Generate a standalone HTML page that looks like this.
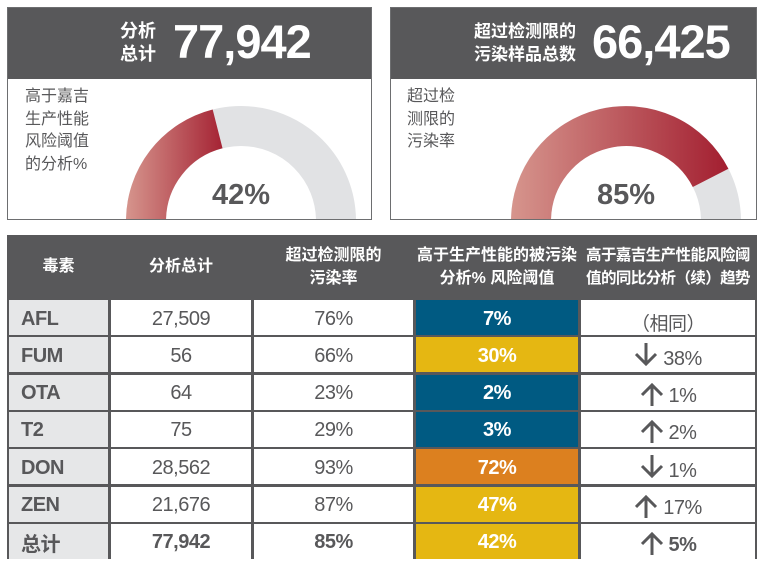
<!DOCTYPE html>
<html><head><meta charset="utf-8"><style>
body{margin:0;width:765px;height:565px;background:#fff;position:relative;overflow:hidden;font-family:"Liberation Sans","Noto Sans CJK SC",sans-serif;color:#58585a}
.a{position:absolute}
.card{position:absolute;border:1.5px solid #6d6e70;background:#fff;overflow:hidden;box-sizing:border-box}
.hd{position:absolute;left:0;top:0;right:0;height:71px;background:#58585a;color:#fff}
.c{position:absolute;background:#fff;display:flex;align-items:center;justify-content:center;font-size:20px;letter-spacing:-0.5px;padding-top:3px;box-sizing:border-box}
.h{position:absolute;color:#fff;display:flex;align-items:center;justify-content:center;text-align:center;font-size:16px;line-height:23px;font-weight:bold;white-space:nowrap}
.b{font-weight:bold}
.w{color:#fff;font-weight:bold}
</style></head><body>
<div class="card" style="left:7px;top:7px;width:365px;height:213px">
 <div class="hd">
  <div class="a" style="left:112px;top:12px;font-size:18px;line-height:23px;font-weight:bold">分析<br>总计</div>
  <div class="a" style="left:165px;top:6px;font-size:47px;font-weight:bold;letter-spacing:-1px">77,942</div>
 </div>
 <div class="a" style="left:17px;top:78px;font-size:16px;line-height:22.5px">高于嘉吉<br>生产性能<br>风险阈值<br>的分析%</div>
 <svg class="a" style="left:0;top:0" width="365" height="213">
  <defs><linearGradient id="g1" x1="118" x2="220" y1="0" y2="0" gradientUnits="userSpaceOnUse"><stop offset="0" stop-color="#d6958d"/><stop offset="1" stop-color="#a21d2f"/></linearGradient></defs>
  <circle cx="233" cy="213" r="95" fill="none" stroke="#e1e2e4" stroke-width="40"/>
  <path d="M138 213 A95 95 0 0 1 209.6 120.9" fill="none" stroke="url(#g1)" stroke-width="40"/>
  <text x="233" y="196" text-anchor="middle" font-size="29" font-weight="bold" fill="#58585a" font-family="Liberation Sans">42%</text>
 </svg>
</div>
<div class="card" style="left:390px;top:7px;width:367px;height:213px">
 <div class="hd">
  <div class="a" style="left:83px;top:12px;font-size:17px;line-height:23px;font-weight:bold">超过检测限的<br>污染样品总数</div>
  <div class="a" style="left:201px;top:6px;font-size:47px;font-weight:bold;letter-spacing:-1px">66,425</div>
 </div>
 <div class="a" style="left:16px;top:78px;font-size:16px;line-height:22.5px">超过检<br>测限的<br>污染率</div>
 <svg class="a" style="left:0;top:0" width="367" height="213">
  <defs><linearGradient id="g2" x1="120" x2="340" y1="0" y2="0" gradientUnits="userSpaceOnUse"><stop offset="0" stop-color="#d6958d"/><stop offset="1" stop-color="#a21d2f"/></linearGradient></defs>
  <circle cx="235" cy="213" r="95" fill="none" stroke="#e1e2e4" stroke-width="40"/>
  <path d="M140 213 A95 95 0 0 1 319.6 169.9" fill="none" stroke="url(#g2)" stroke-width="40"/>
  <text x="235" y="196" text-anchor="middle" font-size="29" font-weight="bold" fill="#58585a" font-family="Liberation Sans">85%</text>
 </svg>
</div>

<div class="a" style="left:7px;top:235px;width:750px;height:324px;background:#58585a"></div>
<div class="h" style="left:9px;top:235px;width:99px;height:63px">毒素</div>
<div class="h" style="left:111px;top:235px;width:140px;height:63px">分析总计</div>
<div class="h" style="left:254px;top:235px;width:159px;height:63px">超过检测限的<br>污染率</div>
<div class="h" style="left:416px;top:235px;width:162px;height:63px">高于生产性能的被污染<br>分析% 风险阈值</div>
<div class="h" style="left:581px;top:235px;width:174px;height:63px;font-size:15.5px;letter-spacing:-0.6px">高于嘉吉生产性能风险阈<br>值的同比分析（续）趋势</div>

<div id="rows"></div>
<script>
var d=[["AFL","27,509","76%","7%","#005a82","","（相同）"],
["FUM","56","66%","30%","#e5b712","d","38%"],
["OTA","64","23%","2%","#005a82","u","1%"],
["T2","75","29%","3%","#005a82","u","2%"],
["DON","28,562","93%","72%","#dc801f","d","1%"],
["ZEN","21,676","87%","47%","#e5b712","u","17%"],
["总计","77,942","85%","42%","#e5b712","u","5%"]];
var h="";
d.forEach(function(r,i){
 var t=300+i*37.3,H=35,bt=i==6?" b":"";
 h+='<div class="c b" style="left:9px;top:'+t+'px;width:99px;height:'+H+'px;background:#e6e7e8;justify-content:flex-start;padding-left:12px">'+r[0]+'</div>';
 h+='<div class="c'+bt+'" style="left:111px;top:'+t+'px;width:140px;height:'+H+'px">'+r[1]+'</div>';
 h+='<div class="c'+bt+'" style="left:254px;top:'+t+'px;width:159px;height:'+H+'px">'+r[2]+'</div>';
 h+='<div class="c w" style="left:416px;top:'+t+'px;width:162px;height:'+H+'px;background:'+r[4]+'">'+r[3]+'</div>';
 var a="";
 if(r[5]=="u")a='<svg width="24" height="24" style="margin-right:5px;margin-top:2px"><path d="M12 23V2M2 12L12 2L22 12" fill="none" stroke="#58585a" stroke-width="3"/></svg>';
 if(r[5]=="d")a='<svg width="24" height="24" style="margin-right:5px;margin-top:-4px"><path d="M12 1V22M2 12L12 22L22 12" fill="none" stroke="#58585a" stroke-width="3"/></svg>';
 var s=r[5]==""?"font-size:19px":"";
 h+='<div class="c'+bt+'" style="left:581px;top:'+t+'px;width:174px;height:'+H+'px;'+s+'">'+a+'<span style="margin-top:6px">'+r[6]+'</span></div>';
});
document.getElementById("rows").innerHTML=h;
</script>
</body></html>
